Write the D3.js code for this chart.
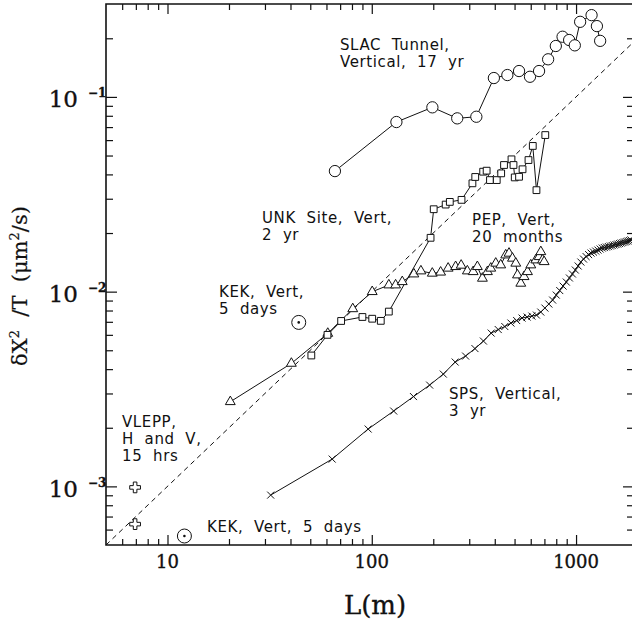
<!DOCTYPE html>
<html><head><meta charset="utf-8">
<script src="https://cdn.jsdelivr.net/npm/d3@7"></script>
<style>
html,body{margin:0;padding:0;background:#fff;}
svg{display:block;}
.ann{font-family:"DejaVu Sans",sans-serif;font-size:15px;letter-spacing:0.6px;fill:#111;white-space:pre;}
.lab{font-family:"DejaVu Serif",serif;fill:#111;stroke:#111;stroke-width:0.35px;}
</style></head><body>
<svg id="c" width="632" height="625"></svg>
<script>
// ---------- data (L in m, dX^2/T in um^2/s) ----------
const slacL=[66,132,198,262,325,396,461,526,595,659,730,796,859,925,986,1047,1191,1265,1312];
const slacD=[0.0416,0.0743,0.0884,0.0776,0.0791,0.125,0.1295,0.1358,0.1269,0.1358,0.156,0.1826,0.2037,0.196,0.184,0.243,0.263,0.231,0.194];

const unkL=[50.6,60.7,70.8,90.0,100.5,110.7,121.2,194,201,230,241,275,311,321,351,365,379,409,430,444,483,494,501,526,547,585,614,640,707];
const unkD=[0.0047,0.0060,0.00707,0.00741,0.00726,0.00708,0.0079,0.0189,0.0265,0.0280,0.0289,0.0296,0.0360,0.0388,0.0413,0.0418,0.0374,0.0374,0.0405,0.0447,0.0478,0.0447,0.0386,0.0389,0.0425,0.0474,0.0560,0.0332,0.0637];

const pepL=[20.3,40.4,60.9,80.7,100.5,121.2,130.8,141,160.7,174,197.8,217.3,236.5,257.3,273.9,293.7,313.6,328.8,348,368.4,382.4,404.4,427.8,452.6,469.8,488.2,506.9,516.6,536.4,556.7,578.5,600.5,635.3,659.2,672.2,685.3,697.9];
const pepD=[0.00272,0.00428,0.0061,0.00816,0.00999,0.01081,0.01081,0.01124,0.01231,0.01276,0.01242,0.01258,0.01318,0.01343,0.01365,0.01276,0.01265,0.01343,0.0117,0.01265,0.01318,0.01398,0.0137,0.01541,0.01573,0.01483,0.01398,0.01217,0.01103,0.01193,0.01265,0.0137,0.01453,0.01511,0.01602,0.01453,0.01424];

const spsL=[32,64,96,128,160,192,224,256,288,320,352,384,416,448,480,512,544,576,608,640,672,704,736,768,800,832,864,896,928,960,992,1024,1056,1088,1120,1152,1184,1216,1248,1280,1312,1344,1376,1408,1440,1472,1504,1536,1568,1600,1632,1664,1696,1728,1760,1792,1824,1856];
const spsD=[0.000902,0.001381,0.00197,0.002437,0.002892,0.003312,0.003773,0.00435,0.004668,0.005101,0.005575,0.006127,0.006387,0.006619,0.006898,0.007105,0.007318,0.007404,0.007491,0.00758,0.007854,0.008235,0.008634,0.009052,0.009601,0.01013,0.01068,0.0112,0.01175,0.01232,0.01291,0.01354,0.01419,0.0147,0.01514,0.0155,0.01578,0.01597,0.01616,0.01635,0.01655,0.01674,0.01684,0.01694,0.01704,0.01715,0.01724,0.01735,0.01745,0.01755,0.01766,0.01776,0.01787,0.01798,0.01808,0.01819,0.0183,0.01841];

const kekL=[43.9,12.1];
const kekD=[0.00695,0.000556];
const vleppL=[6.94,6.94];
const vleppD=[0.000988,0.00064];

const dashL=[5,1900];
const dashD=[0.0005,0.19];

// ticks
const xMajor=[10,100,1000];
const xMajorLabels=["10","100","1000"];
const xMinor=[6,7,8,9,20,30,40,50,60,70,80,90,200,300,400,500,600,700,800,900];
const yMajor=[0.001,0.01,0.1];
const yMajorExp=["\u22123","\u22122","\u22121"];
const yMinor=[0.0006,0.0007,0.0008,0.0009,0.002,0.003,0.004,0.005,0.006,0.007,0.008,0.009,0.02,0.03,0.04,0.05,0.06,0.07,0.08,0.09,0.2];

// annotations
const notes=[
  {x:340,y:50,lines:["SLAC  Tunnel,","Vertical,  17  yr"]},
  {x:262,y:223,lines:["UNK  Site,  Vert,","2  yr"]},
  {x:472,y:225,lines:["PEP,  Vert,","20  months"]},
  {x:219,y:297,lines:["KEK,  Vert,","5  days"]},
  {x:122,y:427,lines:["VLEPP,","H  and  V,","15  hrs"]},
  {x:207,y:532,lines:["KEK,  Vert,  5  days"]},
  {x:449,y:399,lines:["SPS,  Vertical,","3  yr"]}
];

// ---------- drawing ----------
const L=106,R=633,T=4,B=545;
const svg=d3.select("#c");
const x=d3.scaleLog().domain([5,1900]).range([L,R]);
const y=d3.scaleLog().domain([0.0005,0.3]).range([B,T]);

svg.append("defs").append("clipPath").attr("id","clip")
  .append("rect").attr("x",L).attr("y",T).attr("width",R-L).attr("height",B-T);

function ax(gen,vals,len){return gen.tickValues(vals).tickSizeInner(len).tickSizeOuter(0).tickFormat("");}
function addAxis(gen,tr){
  const g=svg.append("g").attr("transform",tr).call(gen);
  g.select(".domain").remove();
  g.selectAll(".tick line").attr("stroke","#111").attr("stroke-width",1.2);
}
addAxis(ax(d3.axisBottom(x),xMajor,-10),`translate(0,${B})`);
addAxis(ax(d3.axisBottom(x),xMinor,-6),`translate(0,${B})`);
addAxis(ax(d3.axisTop(x),xMajor,-10),`translate(0,${T})`);
addAxis(ax(d3.axisTop(x),xMinor,-6),`translate(0,${T})`);
addAxis(ax(d3.axisLeft(y),yMajor,-11),`translate(${L},0)`);
addAxis(ax(d3.axisLeft(y),yMinor,-7),`translate(${L},0)`);
addAxis(ax(d3.axisRight(y),yMajor,-10),`translate(${R},0)`);
addAxis(ax(d3.axisRight(y),yMinor,-6),`translate(${R},0)`);

// frame
svg.append("path").attr("d",`M${R},${T}H${L}V${B}H${R}`)
  .attr("fill","none").attr("stroke","#111").attr("stroke-width",1.6);

// tick labels
svg.selectAll(".xl").data(xMajor).enter().append("text").attr("class","lab")
  .attr("x",d=>x(d)).attr("y",568).attr("text-anchor","middle").attr("font-size",18)
  .text((d,i)=>xMajorLabels[i]);
yMajor.forEach((v,i)=>{
  svg.append("text").attr("class","lab").attr("x",78).attr("y",y(v)+10.5)
    .attr("text-anchor","end").attr("font-size",23).text("10");
  svg.append("text").attr("class","lab").attr("x",88).attr("y",y(v)+0.5)
    .attr("font-size",12).attr("font-weight","bold").text(yMajorExp[i]);
});

// axis titles
svg.append("text").attr("class","lab").attr("x",375).attr("y",614)
  .attr("text-anchor","middle").attr("font-size",26).text("L(m)");
const yt=svg.append("text").attr("class","lab").attr("font-size",21)
  .attr("text-anchor","middle").attr("transform","translate(27,286) rotate(-90)")
  .style("white-space","pre").style("stroke-width","0.2px");
yt.append("tspan").text("\u03b4X");
yt.append("tspan").attr("dy",-8).attr("font-size",13).text("2");
yt.append("tspan").attr("dy",8).text("  /T  (\u03bcm");
yt.append("tspan").attr("dy",-8).attr("font-size",13).text("2");
yt.append("tspan").attr("dy",8).text("/s)");

// data layer
const plot=svg.append("g").attr("clip-path","url(#clip)");
const line=d3.line().x(d=>x(d[0])).y(d=>y(d[1]));
const zip=(a,b)=>a.map((v,i)=>[v,b[i]]);

plot.append("path").datum(zip(dashL,dashD)).attr("d",line)
  .attr("fill","none").attr("stroke","#111").attr("stroke-width",1).attr("stroke-dasharray","5,4");

const series=[
  {pts:zip(spsL,spsD),sym:"times",size:3.5},
  {pts:zip(pepL,pepD),sym:d3.symbolTriangle,size:42},
  {pts:zip(unkL,unkD),sym:d3.symbolSquare,size:46},
  {pts:zip(slacL,slacD),sym:d3.symbolCircle,size:100}
];
series.forEach(s=>{
  plot.append("path").datum(s.pts).attr("d",line)
    .attr("fill","none").attr("stroke","#111").attr("stroke-width",1);
});
series.forEach(s=>{
  const g=plot.append("g");
  if(s.sym==="times"){
    const r=s.size;
    g.selectAll("path").data(s.pts).enter().append("path")
      .attr("d",`M${-r},${-r}L${r},${r}M${-r},${r}L${r},${-r}`)
      .attr("transform",d=>`translate(${x(d[0])},${y(d[1])})`)
      .attr("stroke","#111").attr("stroke-width",1).attr("fill","none");
  } else {
    g.selectAll("path").data(s.pts).enter().append("path")
      .attr("d",d3.symbol().type(s.sym).size(s.size))
      .attr("transform",d=>`translate(${x(d[0])},${y(d[1])})`)
      .attr("stroke","#111").attr("stroke-width",1).attr("fill","#fff");
  }
});
// KEK
const kek=zip(kekL,kekD);
plot.selectAll(".kek").data(kek).enter().append("circle")
  .attr("cx",d=>x(d[0])).attr("cy",d=>y(d[1])).attr("r",7)
  .attr("fill","#fff").attr("stroke","#111").attr("stroke-width",1);
plot.selectAll(".kekd").data(kek).enter().append("circle")
  .attr("cx",d=>x(d[0])).attr("cy",d=>y(d[1])).attr("r",1.3).attr("fill","#111");
// VLEPP
plot.selectAll(".vl").data(zip(vleppL,vleppD)).enter().append("path")
  .attr("d",d3.symbol().type(d3.symbolCross).size(64))
  .attr("transform",d=>`translate(${x(d[0])},${y(d[1])})`)
  .attr("fill","#fff").attr("stroke","#111").attr("stroke-width",1);

// annotations
notes.forEach(n=>{
  const t=svg.append("text").attr("class","ann").attr("x",n.x).attr("y",n.y);
  n.lines.forEach((ln,i)=>t.append("tspan").attr("x",n.x).attr("dy",i?17:0).text(ln));
});
</script>
</body></html>
